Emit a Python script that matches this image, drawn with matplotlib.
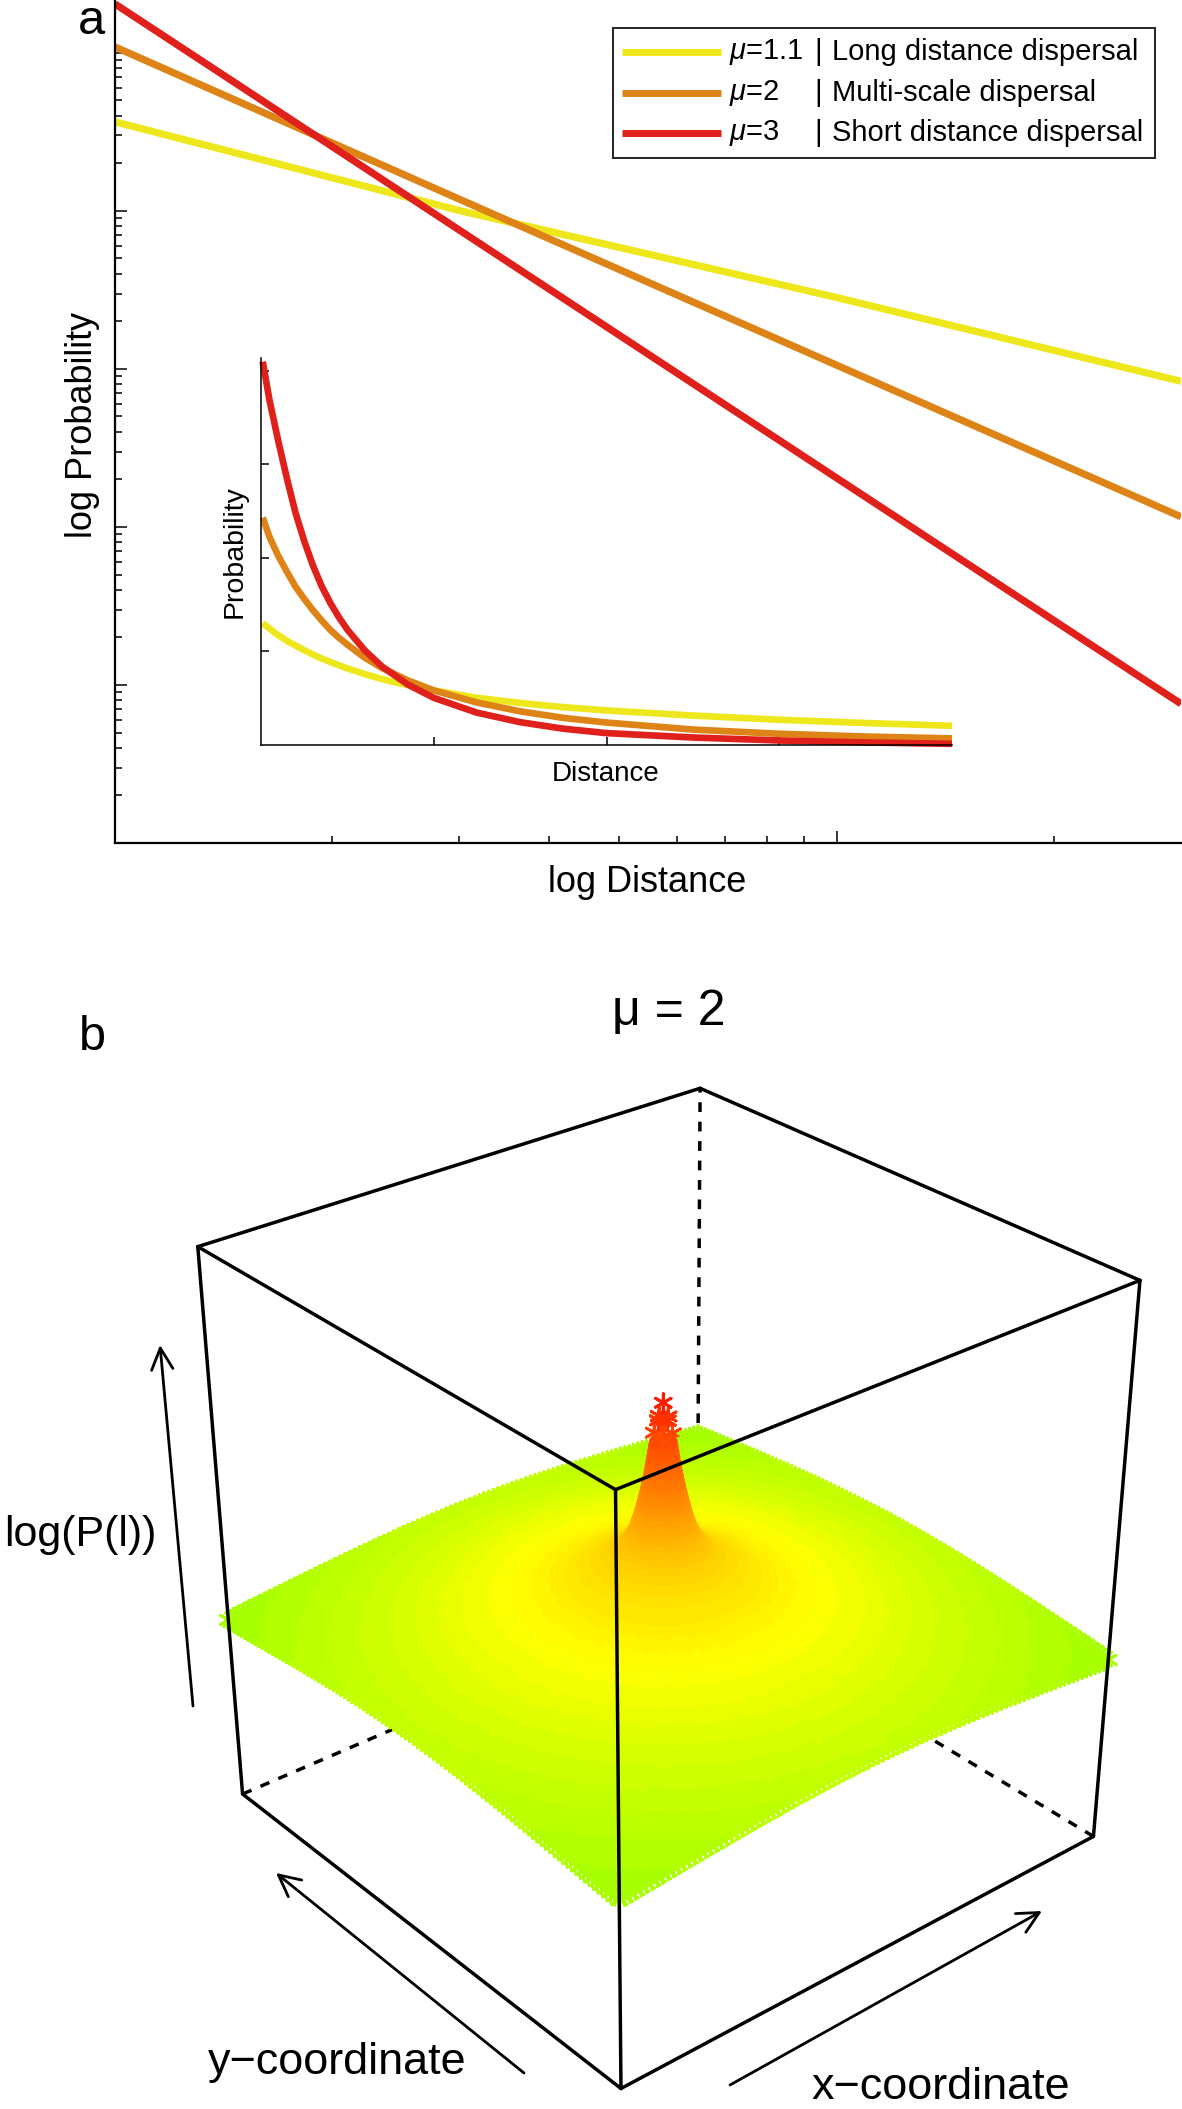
import numpy as np
import matplotlib
matplotlib.use('Agg')
import matplotlib.pyplot as plt
from matplotlib.colors import LinearSegmentedColormap
from matplotlib.patches import Rectangle
from matplotlib.ticker import NullFormatter

plt.rcParams['font.family'] = ['Liberation Sans', 'DejaVu Sans']
plt.rcParams['mathtext.fontset'] = 'custom'
plt.rcParams['mathtext.it'] = 'Liberation Sans:italic'
plt.rcParams['mathtext.rm'] = 'Liberation Sans'

W = 1182
H = 2109

#Legend text and colours
muLabels = [r'$\mu$=1.1', r'$\mu$=2', r'$\mu$=3']
dispersalLabels = ['Long distance dispersal', 'Multi-scale dispersal', 'Short distance dispersal']
lineColors = ['#EEE71B', '#DE8316', '#E0201B']

#Panel a, main plot: values
logDistance = [1, 3, 10, 30]
logProbYellow = [36600, 10050, 2830, 835]
logProbOrange = [109000, 11860, 1056, 116]
logProbRed = [204000, 7560, 204, 7.6]

#Panel a, inset: values
insetDistance = [0.01, 0.05, 0.1, 0.15, 0.2, 0.25, 0.3, 0.35, 0.4, 0.45, 0.5, 0.6, 0.7, 0.85, 1.0, 1.25, 1.5, 1.75, 2.0, 2.5, 3.0, 3.5, 4.0]
insetYellow = [1.30, 1.24, 1.17, 1.11, 1.06, 1.01, 0.965, 0.922, 0.885, 0.85, 0.815, 0.755, 0.70, 0.635, 0.58, 0.50, 0.445, 0.40, 0.365, 0.31, 0.265, 0.23, 0.2]
insetOrange = [2.43, 2.22, 2.02, 1.85, 1.69, 1.56, 1.44, 1.33, 1.23, 1.145, 1.07, 0.93, 0.82, 0.687, 0.58, 0.45, 0.355, 0.285, 0.235, 0.16, 0.115, 0.085, 0.065]
insetRed = [4.10, 3.68, 3.25, 2.85, 2.48, 2.18, 1.92, 1.70, 1.52, 1.365, 1.23, 1.01, 0.836, 0.642, 0.50, 0.341, 0.239, 0.169, 0.122, 0.075, 0.043, 0.022, 0.007]

#Panel b: height of the surface against grid distance from the centre
surfaceDist = [0, 1, 1.41, 2, 3, 4, 5, 6.5, 8, 16, 32, 50, 71]
surfaceHeight = [0.766, 0.739, 0.714, 0.672, 0.615, 0.572, 0.54, 0.515, 0.50, 0.46, 0.415, 0.374, 0.34]

#Panel b: cube corners in the unit cube and where they sit in the picture
cubeCorners = [(0, 0, 0), (0, 0, 1), (0, 1, 0), (0, 1, 1), (1, 0, 0), (1, 0, 1), (1, 1, 0), (1, 1, 1)]
cubePixels = [(621, 2089), (616, 1490), (242, 1793), (198, 1247), (1093, 1836), (1140, 1280), (698, 1599), (699.5, 1088)]

fig = plt.figure(figsize=(W / 100, H / 100), dpi=100)


def pixelRect(left, top, right, bottom):
	return [left / W, 1 - bottom / H, (right - left) / W, (bottom - top) / H]


#-------- panel a, main plot --------
ax = fig.add_axes(pixelRect(115, 0, 1181, 843))
ax.set_xscale('log')
ax.set_yscale('log')
for probs, color in zip([logProbYellow, logProbOrange, logProbRed], lineColors):
	ax.plot(logDistance, probs, color=color, lw=5.2, solid_capstyle='butt')
ax.spines['top'].set_visible(False)
ax.spines['right'].set_visible(False)
ax.spines['left'].set_linewidth(1.6)
ax.spines['bottom'].set_linewidth(1.6)
ax.set_xticks([10])
ax.set_xticks([2, 3, 4, 5, 6, 7, 8, 9, 20], minor=True)
ax.set_yticks([10, 100, 1000, 10000, 100000])
ax.set_yticks([m * 10 ** k for k in range(5) for m in range(2, 10)], minor=True)
ax.set_xlim(1, 30)
ax.set_ylim(1, 2.16e5)
for axis in [ax.xaxis, ax.yaxis]:
	axis.set_major_formatter(NullFormatter())
	axis.set_minor_formatter(NullFormatter())
ax.tick_params(which='major', direction='in', length=8.3, width=1.1)
ax.tick_params(which='minor', direction='in', length=4.7, width=1.1)
ax.patch.set_alpha(0)

#-------- panel a, inset --------
inset = fig.add_axes(pixelRect(261, 358, 952, 744.5))
inset.set_xlim(0, 4)
inset.set_ylim(0, 4.14)
for values, color in zip([insetYellow, insetOrange, insetRed], lineColors):
	inset.plot(insetDistance, values, color=color, lw=4.8, solid_capstyle='butt', clip_on=False)
inset.spines['top'].set_visible(False)
inset.spines['right'].set_visible(False)
inset.spines['left'].set_linewidth(1.1)
inset.spines['bottom'].set_linewidth(1.1)
inset.set_xticks([1, 2, 3])
inset.set_yticks([1, 2, 3, 4])
inset.set_xticklabels([])
inset.set_yticklabels([])
inset.tick_params(direction='in', length=5.5, width=1.1)
inset.patch.set_alpha(0)

#-------- overlay in picture pixels: labels, legend and the 3D panel --------
over = fig.add_axes([0, 0, 1, 1])
over.set_xlim(0, W)
over.set_ylim(H, 0)
over.axis('off')
over.patch.set_alpha(0)

over.text(91, 34.5, 'a', fontsize=35, ha='center', va='baseline')
over.text(92, 1050, 'b', fontsize=35, ha='center', va='baseline')
over.text(83, 425, 'log Probability', fontsize=26, rotation=90, ha='center', va='center')
over.text(647, 883, 'log Distance', fontsize=26, ha='center', va='center')
over.text(235, 552, 'Probability', fontsize=20.5, rotation=90, ha='center', va='center')
over.text(606, 774, 'Distance', fontsize=20, ha='center', va='center')

#Legend
over.add_patch(Rectangle((613, 28), 542, 130, fill=True, facecolor='white', edgecolor='#222222', lw=1.4, zorder=5))
legendRows = [52, 93, 133]
for rowY, color, muText, dispText in zip(legendRows, lineColors, muLabels, dispersalLabels):
	over.plot([622, 721], [rowY, rowY], color=color, lw=5, solid_capstyle='butt', zorder=6)
	over.text(729, rowY, muText, fontsize=21, ha='left', va='center', zorder=6)
	over.text(818, rowY, '|', fontsize=21, ha='center', va='center', zorder=6)
	over.text(832, rowY, dispText, fontsize=21, ha='left', va='center', zorder=6)

#Camera matrix from the cube corners (plain DLT fit)
rows = []
for (X, Y, Z), (u, v) in zip(cubeCorners, cubePixels):
	rows.append([X, Y, Z, 1, 0, 0, 0, 0, -u * X, -u * Y, -u * Z, -u])
	rows.append([0, 0, 0, 0, X, Y, Z, 1, -v * X, -v * Y, -v * Z, -v])
camera = np.linalg.svd(np.array(rows, dtype=float))[2][-1].reshape(3, 4)


def project(X, Y, Z):
	pts = np.vstack([X, Y, Z, np.ones_like(X)])
	uvw = camera @ pts
	return uvw[0] / uvw[2], uvw[1] / uvw[2]


def cubeLine(i, j, **kw):
	a = np.array([cubeCorners[i], cubeCorners[j]], dtype=float)
	u, v = project(a[:, 0], a[:, 1], a[:, 2])
	over.plot(u, v, color='black', solid_capstyle='round', **kw)


def surfacePoints(idx, minDist, maxDist):
	#grid positions (in cells) around the centre, painted back to front
	gx, gy = np.meshgrid(idx, idx)
	gx = gx.ravel()
	gy = gy.ravel()
	dist = np.hypot(gx - 50, gy - 50)
	keep = (dist >= minDist) & (dist <= maxDist)
	gx, gy, dist = gx[keep], gy[keep], dist[keep]
	gz = np.interp(np.log1p(dist), np.log1p(surfaceDist), surfaceHeight)
	order = np.lexsort((gz, -(gx + gy)))
	su, sv = project(gx[order] / 100, gy[order] / 100, gz[order])
	return su, sv, gz[order]


#Hidden edges go under the surface
for i, j in [(2, 6), (4, 6), (6, 7)]:
	cubeLine(i, j, lw=2.5, linestyle=(0, (2.8, 2.8)), zorder=1)

#Surface: a 101 x 101 grid of asterisks coloured by height, with a finer fill for the steep peak
surfaceCmap = LinearSegmentedColormap.from_list('surface', [(0, '#a8ff00'), (0.2, '#ffff00'), (1, '#ff1000')], N=48)
su, sv, gz = surfacePoints(np.arange(101), 0, 100)
over.scatter(su, sv, c=gz, cmap=surfaceCmap, vmin=0.34, vmax=0.79, marker=(6, 2, 0), s=170, linewidths=2.0, zorder=2)
over.scatter(su, sv, c=gz, cmap=surfaceCmap, vmin=0.34, vmax=0.79, marker='o', s=26, linewidths=0, zorder=2)
su, sv, gz = surfacePoints(np.arange(35, 65.01, 0.2), 1.6, 15)
over.scatter(su, sv, c=gz, cmap=surfaceCmap, vmin=0.34, vmax=0.79, marker='o', s=34, linewidths=0, zorder=2)

#Visible edges on top
for i, j in [(0, 1), (2, 3), (4, 5), (1, 3), (3, 7), (7, 5), (5, 1), (0, 2), (0, 4)]:
	cubeLine(i, j, lw=2.5, zorder=3)

#Axis arrows
arrowProps = dict(arrowstyle='->,head_length=0.7,head_width=0.35', mutation_scale=22, lw=2, color='black', shrinkA=0, shrinkB=0)
over.annotate('', xy=(160, 1345), xytext=(193, 1706), arrowprops=arrowProps)
over.annotate('', xy=(276, 1873), xytext=(524, 2073), arrowprops=arrowProps)
over.annotate('', xy=(1042, 1911), xytext=(730, 2085), arrowprops=arrowProps)

over.text(669, 1025, '\u03bc = 2', fontsize=36, ha='center', va='baseline')
over.text(80, 1535, 'log(P(l))', fontsize=31, ha='center', va='center')
over.text(337, 2074, 'y\u2212coordinate', fontsize=32.4, ha='center', va='baseline')
over.text(941, 2099, 'x\u2212coordinate', fontsize=32.4, ha='center', va='baseline')

fig.savefig('out.png', dpi=100)
